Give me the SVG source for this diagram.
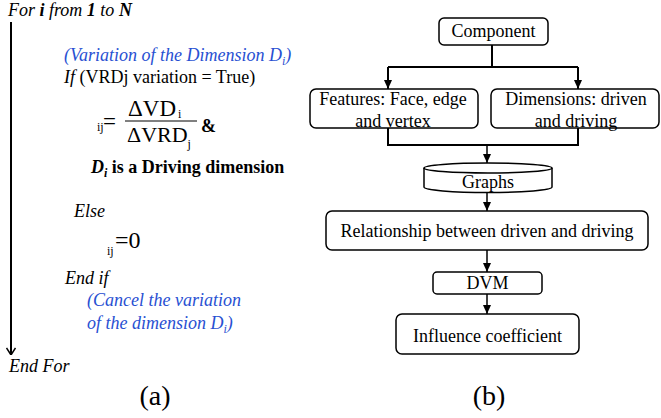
<svg xmlns="http://www.w3.org/2000/svg" width="661" height="418" viewBox="0 0 661 418" font-family="'Liberation Serif', Tinos, 'DejaVu Serif', serif">
<style>
text{font-family:'Liberation Serif',Tinos,'DejaVu Serif',serif;font-size:18px;fill:#000}
.it{font-style:italic}
.b{font-weight:bold}
.blue{fill:#2850d2}
.box{fill:#fff;stroke:#000;stroke-width:1.5}
.conn{fill:none;stroke:#000;stroke-width:2}
.mid{text-anchor:middle}
.sm{font-size:12px}
</style>
<defs>
<marker id="ah" markerWidth="9" markerHeight="8" refX="9" refY="4" orient="auto" markerUnits="userSpaceOnUse" viewBox="0 0 9 8">
<path d="M0,0 L9,4 L0,8 Z" fill="#000"/>
</marker>
<marker id="ad" markerWidth="10" markerHeight="10" refX="10" refY="5" orient="auto" markerUnits="userSpaceOnUse" viewBox="0 0 10 10">
<path d="M3,0.5 L10,5 L3,9.5" fill="none" stroke="#000" stroke-width="1.5"/>
</marker>
</defs>
<g id="algorithm">
<text x="8" y="16" class="it">For <tspan class="b">i</tspan> from <tspan class="b">1</tspan> to <tspan class="b">N</tspan></text>
<line x1="11" y1="22" x2="11" y2="355" stroke="#000" stroke-width="2" marker-end="url(#ad)"/>
<text x="64" y="61" class="it blue">(Variation of the Dimension D<tspan class="sm" dy="4">i</tspan><tspan dy="-4">)</tspan></text>
<text x="64" y="83"><tspan class="it">If</tspan> (VRDj variation = True)</text>
<text x="97" y="131" class="sm">ij</text>
<text x="103" y="129" style="font-size:23px">=</text>
<text x="128" y="116" style="font-size:23px">ΔVD</text><text x="178" y="118" class="sm">i</text>
<line x1="125" y1="121" x2="197" y2="121" stroke="#000" stroke-width="1"/>
<text x="127" y="142" style="font-size:22px">ΔVRD<tspan class="sm" dy="6">j</tspan></text>
<text x="201" y="132" class="b">&amp;</text>
<text x="91" y="173" class="b"><tspan class="it">D<tspan class="sm" dy="4">i</tspan></tspan><tspan dy="-4"> is a Driving dimension</tspan></text>
<text x="74" y="217" class="it">Else</text>
<text x="107" y="255" class="sm">ij</text>
<text x="115" y="248" style="font-size:24px">=0</text>
<text x="65" y="284" class="it">End if</text>
<text x="87" y="306" class="it blue">(Cancel the variation</text>
<text x="87" y="329" class="it blue">of the dimension D<tspan class="sm" dy="4">i</tspan><tspan dy="-4">)</tspan></text>
<text x="9" y="372" class="it">End For</text>
<text x="155" y="405" class="mid" style="font-size:28px">(a)</text>
</g>
<g id="connectors">
<path class="conn" d="M492,45 V67 M388,67 H578"/>
<path class="conn" d="M388,67 V89" marker-end="url(#ah)"/>
<path class="conn" d="M578,67 V89" marker-end="url(#ah)"/>
<path class="conn" d="M388,128 V145 H578 V128"/>
<path class="conn" d="M487,145 V163" marker-end="url(#ah)" style="stroke-width:1.5"/>
<path class="conn" d="M487,193 V211" marker-end="url(#ah)" style="stroke-width:1.5"/>
<path class="conn" d="M487,250 V272" marker-end="url(#ah)" style="stroke-width:1.5"/>
<path class="conn" d="M487,294 V314" marker-end="url(#ah)" style="stroke-width:1.5"/>
</g>
<g id="component">
<rect class="box" x="439" y="18" width="109" height="27" rx="5"/>
<text x="493.5" y="37" class="mid">Component</text>
</g>
<g id="features">
<rect class="box" x="310" y="89" width="168" height="39" rx="6"/>
<text x="393" y="105" class="mid">Features: Face, edge</text>
<text x="393" y="127" class="mid">and vertex</text>
</g>
<g id="dimensions">
<rect class="box" x="491" y="89" width="168" height="39" rx="6"/>
<text x="576" y="105" class="mid">Dimensions: driven</text>
<text x="576" y="127" class="mid">and driving</text>
</g>
<g id="graphs">
<path class="box" d="M424,168 V187 A64,5.5 0 0 0 552,187 V168"/>
<ellipse class="box" cx="488" cy="168" rx="64" ry="5"/>
<text x="488" y="188" class="mid">Graphs</text>
</g>
<g id="relationship">
<rect class="box" x="326" y="211" width="322" height="39" rx="6"/>
<text x="487" y="237" class="mid">Relationship between driven and driving</text>
</g>
<g id="dvm">
<rect class="box" x="433" y="272" width="109" height="22" rx="4"/>
<text x="487.5" y="289" class="mid">DVM</text>
</g>
<g id="influence">
<rect class="box" x="396" y="314" width="183" height="40" rx="6"/>
<text x="487.5" y="342" class="mid">Influence coefficient</text>
</g>
<text x="489" y="405" class="mid" style="font-size:28px">(b)</text>
</svg>
